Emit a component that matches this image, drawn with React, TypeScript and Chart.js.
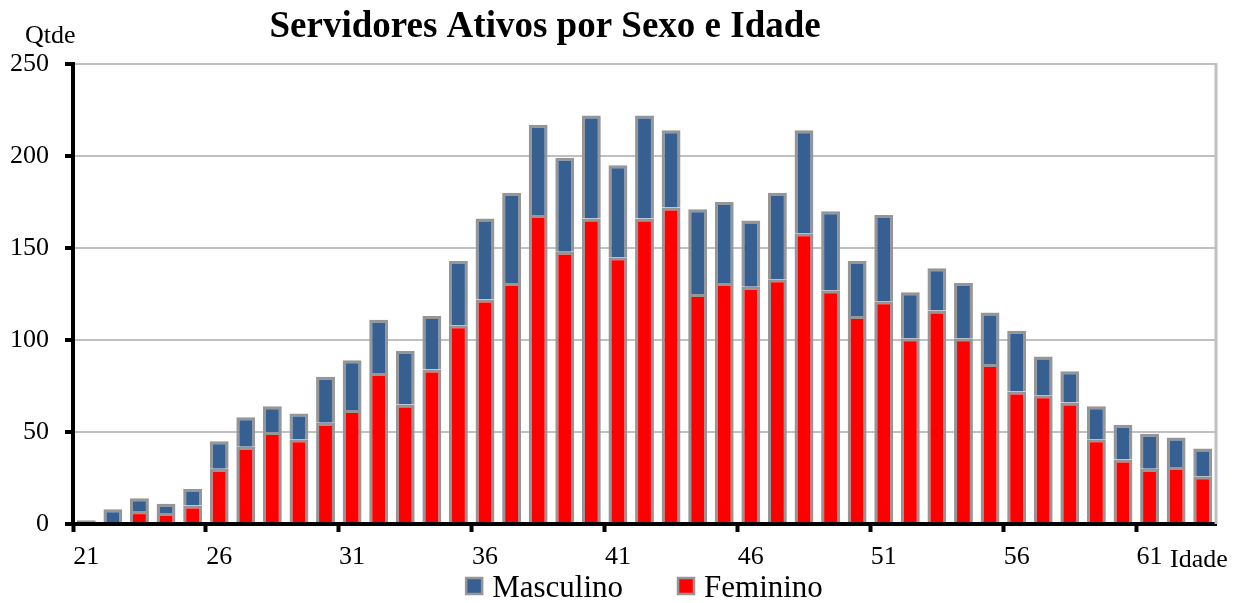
import React, { useEffect, useRef } from "react";
import { Chart, registerables } from "chart.js";

Chart.register(...registerables);

const ages = [
  "21", "22", "23", "24", "25", "26", "27", "28", "29", "30",
  "31", "32", "33", "34", "35", "36", "37", "38", "39", "40",
  "41", "42", "43", "44", "45", "46", "47", "48", "49", "50",
  "51", "52", "53", "54", "55", "56", "57", "58", "59", "60",
  "61", "62", "63",
];

const feminino = [
  0, 0, 7, 6, 10, 30, 42, 50, 46, 55,
  62, 82, 65, 84, 108, 122, 131, 168, 148, 166,
  145, 166, 172, 125, 131, 129, 133, 158, 127, 113,
  121, 101, 116, 101, 87, 72, 70, 66, 46, 35,
  30, 31, 26,
];

const masculino = [
  2, 8, 7, 5, 9, 15, 16, 14, 14, 25,
  27, 29, 29, 29, 35, 44, 49, 49, 51, 56,
  50, 56, 42, 46, 44, 36, 47, 56, 43, 30,
  47, 25, 23, 30, 28, 33, 21, 17, 18, 19,
  19, 16, 15,
];

const yMin = 0;
const yMax = 250;
const yStep = 50;

const TITLE = "Servidores Ativos por Sexo e Idade";
const Y_TITLE = "Qtde";
const X_TITLE = "Idade";
const FONT = "'Liberation Serif', 'Times New Roman', Times, serif";

const BLUE = "#376092";
const RED = "#ff0000";
const BAR_BORDER = "#969696";
const GRID = "#c0c0c0";

export default function App() {
  const ref = useRef<HTMLCanvasElement | null>(null);

  useEffect(() => {
    if (!ref.current) return;

    const extras = {
      id: "extras",
      afterDraw(chart: any) {
        const { ctx, chartArea } = chart;
        ctx.save();
        // right frame line
        ctx.strokeStyle = GRID;
        ctx.lineWidth = 3;
        ctx.beginPath();
        ctx.moveTo(chartArea.right, chartArea.top - 1);
        ctx.lineTo(chartArea.right, chartArea.bottom);
        ctx.stroke();

        ctx.fillStyle = "#000";
        ctx.textBaseline = "alphabetic";
        // title
        ctx.font = `bold 37px ${FONT}`;
        ctx.textAlign = "center";
        ctx.fillText(TITLE, chart.width * 0.4375, 37);
        // y title
        ctx.font = `26px ${FONT}`;
        ctx.textAlign = "left";
        ctx.fillText(Y_TITLE, 25, 43);
        // x title
        ctx.fillText(X_TITLE, chartArea.right - 46, 567);

        // legend (top series first)
        ctx.font = `31px ${FONT}`;
        const items = chart.data.datasets.slice().reverse();
        const box = 16;
        const gapText = 10;
        const gapItem = 55;
        const widths = items.map((d: any) => box + gapText + ctx.measureText(d.label).width);
        const total = widths.reduce((a: number, b: number) => a + b, 0) + gapItem * (items.length - 1);
        let x = (chartArea.left + chartArea.right) / 2 - total / 2;
        const baseline = 597;
        items.forEach((d: any, i: number) => {
          ctx.fillStyle = d.backgroundColor;
          ctx.fillRect(x, baseline - 19, box, box);
          ctx.strokeStyle = BAR_BORDER;
          ctx.lineWidth = 2.5;
          ctx.strokeRect(x, baseline - 19, box, box);
          ctx.fillStyle = "#000";
          ctx.textAlign = "left";
          ctx.fillText(d.label, x + box + gapText, baseline);
          x += widths[i] + gapItem;
        });
        ctx.restore();
      },
    };

    const chart = new Chart(ref.current, {
      type: "bar",
      data: {
        labels: ages,
        datasets: [
          {
            label: "Feminino",
            data: feminino,
            backgroundColor: RED,
            borderColor: BAR_BORDER,
            borderWidth: 3,
            borderSkipped: "bottom",
            barPercentage: 0.71,
            categoryPercentage: 1,
          },
          {
            label: "Masculino",
            data: masculino,
            backgroundColor: BLUE,
            borderColor: BAR_BORDER,
            borderWidth: 3,
            borderSkipped: "bottom",
            barPercentage: 0.71,
            categoryPercentage: 1,
          },
        ],
      },
      options: {
        responsive: false,
        animation: false,
        events: [],
        layout: { padding: { left: 0, right: 30, top: 64, bottom: 0 } },
        plugins: {
          legend: { display: false },
          title: { display: false },
          tooltip: { enabled: false },
        },
        scales: {
          x: {
            stacked: true,
            afterFit: (s: any) => {
              s.height = 79;
            },
            border: { display: true, color: "#000", width: 4, z: 1 },
            grid: {
              offset: true,
              drawOnChartArea: false,
              drawTicks: true,
              tickLength: 8,
              tickWidth: 4,
              tickColor: (c: any) =>
                c.index !== undefined && c.index % 5 === 0 ? "#000" : "rgba(0,0,0,0)",
            },
            ticks: {
              autoSkip: false,
              maxRotation: 0,
              minRotation: 0,
              padding: 10,
              color: "#000",
              font: { family: FONT, size: 26 },
              callback: (_v: any, i: number) => (i % 5 === 0 ? ages[i] : ""),
            },
          },
          y: {
            stacked: true,
            min: yMin,
            max: yMax,
            afterFit: (s: any) => {
              s.width = 73;
            },
            border: { display: true, color: "#000", width: 4, z: 1 },
            grid: {
              color: (c: any) => (c.tick && c.tick.value === 0 ? "rgba(0,0,0,0)" : GRID),
              lineWidth: 2,
              drawTicks: true,
              tickLength: 8,
              tickWidth: 4,
              tickColor: "#000",
            },
            ticks: {
              stepSize: yStep,
              padding: 16,
              color: "#000",
              font: { family: FONT, size: 26 },
            },
          },
        },
      },
      plugins: [extras],
    });

    return () => chart.destroy();
  }, []);

  return (
    <div style={{ position: "fixed", left: 0, top: 0, width: 1246, height: 603, background: "#fff" }}>
      <canvas ref={ref} width={1246} height={603} style={{ display: "block" }} />
    </div>
  );
}
